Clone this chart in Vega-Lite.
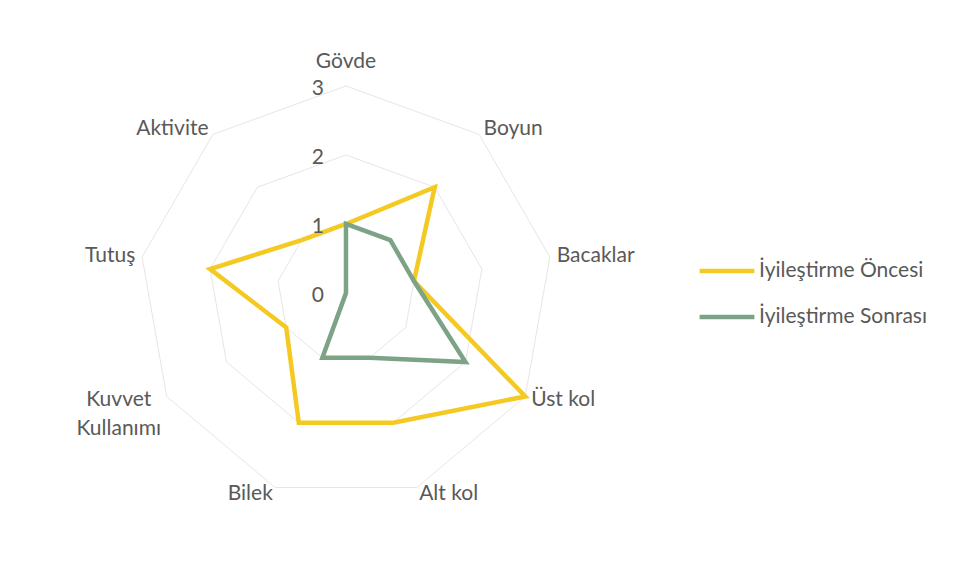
{
  "$schema": "https://vega.github.io/schema/vega-lite/v6.json",
  "width": 953,
  "height": 585,
  "autosize": {"type": "none"},
  "padding": 0,
  "background": "white",
  "config": {"view": {"stroke": null}, "font": "Lato", "text": {"font": "Lato"}},
  "datasets": {
    "scores": [
      {"axis": "Gövde", "i": 0, "series": "İyileştirme Öncesi", "value": 1},
      {"axis": "Boyun", "i": 1, "series": "İyileştirme Öncesi", "value": 2},
      {"axis": "Bacaklar", "i": 2, "series": "İyileştirme Öncesi", "value": 1},
      {"axis": "Üst kol", "i": 3, "series": "İyileştirme Öncesi", "value": 3},
      {"axis": "Alt kol", "i": 4, "series": "İyileştirme Öncesi", "value": 2},
      {"axis": "Bilek", "i": 5, "series": "İyileştirme Öncesi", "value": 2},
      {"axis": "Kuvvet Kullanımı", "i": 6, "series": "İyileştirme Öncesi", "value": 1},
      {"axis": "Tutuş", "i": 7, "series": "İyileştirme Öncesi", "value": 2},
      {"axis": "Aktivite", "i": 8, "series": "İyileştirme Öncesi", "value": 1},
      {"axis": "Gövde", "i": 0, "series": "İyileştirme Sonrası", "value": 1},
      {"axis": "Boyun", "i": 1, "series": "İyileştirme Sonrası", "value": 1},
      {"axis": "Bacaklar", "i": 2, "series": "İyileştirme Sonrası", "value": 1},
      {"axis": "Üst kol", "i": 3, "series": "İyileştirme Sonrası", "value": 2},
      {"axis": "Alt kol", "i": 4, "series": "İyileştirme Sonrası", "value": 1},
      {"axis": "Bilek", "i": 5, "series": "İyileştirme Sonrası", "value": 1},
      {"axis": "Kuvvet Kullanımı", "i": 6, "series": "İyileştirme Sonrası", "value": 0},
      {"axis": "Tutuş", "i": 7, "series": "İyileştirme Sonrası", "value": 0},
      {"axis": "Aktivite", "i": 8, "series": "İyileştirme Sonrası", "value": 0}
    ],
    "axes": [
      {"i": 0, "label": ["Gövde"], "rings": [1, 2, 3]},
      {"i": 1, "label": ["Boyun"], "rings": [1, 2, 3]},
      {"i": 2, "label": ["Bacaklar"], "rings": [1, 2, 3]},
      {"i": 3, "label": ["Üst kol"], "rings": [1, 2, 3]},
      {"i": 4, "label": ["Alt kol"], "rings": [1, 2, 3]},
      {"i": 5, "label": ["Bilek"], "rings": [1, 2, 3]},
      {"i": 6, "label": ["Kuvvet", "Kullanımı"], "rings": [1, 2, 3]},
      {"i": 7, "label": ["Tutuş"], "rings": [1, 2, 3]},
      {"i": 8, "label": ["Aktivite"], "rings": [1, 2, 3]}
    ],
    "ticks": [{"v": 0}, {"v": 1}, {"v": 2}, {"v": 3}]
  },
  "layer": [
    {
      "data": {"name": "axes"},
      "transform": [
        {"flatten": ["rings"], "as": ["ring"]},
        {"calculate": "datum.i * 2 * PI / 9", "as": "a"},
        {"calculate": "datum.ring * sin(datum.a)", "as": "x"},
        {"calculate": "datum.ring * cos(datum.a)", "as": "y"}
      ],
      "mark": {"type": "line", "interpolate": "linear-closed", "stroke": "#e6e6e6", "strokeWidth": 1},
      "encoding": {
        "x": {"field": "x", "type": "quantitative", "scale": {"domain": [-5.014, 8.797], "nice": false, "zero": false}, "axis": null},
        "y": {"field": "y", "type": "quantitative", "scale": {"domain": [-4.232, 4.246], "nice": false, "zero": false}, "axis": null},
        "detail": {"field": "ring"},
        "order": {"field": "i"}
      }
    },
    {
      "data": {"name": "scores"},
      "transform": [
        {"filter": "datum.series == 'İyileştirme Öncesi'"},
        {"calculate": "datum.i * 2 * PI / 9", "as": "a"},
        {"calculate": "datum.value * sin(datum.a)", "as": "x"},
        {"calculate": "datum.value * cos(datum.a)", "as": "y"}
      ],
      "mark": {"type": "line", "interpolate": "linear-closed", "strokeWidth": 4.5},
      "encoding": {
        "x": {"field": "x", "type": "quantitative"},
        "y": {"field": "y", "type": "quantitative"},
        "order": {"field": "i"},
        "color": {
          "field": "series",
          "type": "nominal",
          "scale": {"domain": ["İyileştirme Öncesi", "İyileştirme Sonrası"], "range": ["#F4C922", "#7DA387"]},
          "legend": {
            "title": null,
            "orient": "none",
            "legendX": 697,
            "legendY": 241,
            "symbolType": "stroke",
            "symbolSize": 3000,
            "symbolStrokeWidth": 4.5,
            "labelFontSize": 21,
            "labelColor": "#595959",
            "labelFont": "Lato",
            "labelOffset": 2,
            "rowPadding": 6,
            "labelLimit": 300
          }
        }
      }
    },
    {
      "data": {"name": "scores"},
      "transform": [
        {"filter": "datum.series == 'İyileştirme Sonrası'"},
        {"calculate": "datum.i * 2 * PI / 9", "as": "a"},
        {"calculate": "datum.value * sin(datum.a)", "as": "x"},
        {"calculate": "datum.value * cos(datum.a)", "as": "y"}
      ],
      "mark": {"type": "line", "interpolate": "linear-closed", "strokeWidth": 4.5},
      "encoding": {
        "x": {"field": "x", "type": "quantitative"},
        "y": {"field": "y", "type": "quantitative"},
        "order": {"field": "i"},
        "color": {"field": "series", "type": "nominal"}
      }
    },
    {
      "data": {"name": "axes"},
      "transform": [
        {"filter": "datum.i >= 1 && datum.i <= 4"},
        {"calculate": "datum.i * 2 * PI / 9", "as": "a"},
        {"calculate": "3.1 * sin(datum.a)", "as": "x"},
        {"calculate": "3.1 * cos(datum.a)", "as": "y"}
      ],
      "mark": {"type": "text", "align": "left", "baseline": "middle", "fontSize": 21, "color": "#595959"},
      "encoding": {
        "x": {"field": "x", "type": "quantitative"},
        "y": {"field": "y", "type": "quantitative"},
        "text": {"field": "label"}
      }
    },
    {
      "data": {"name": "axes"},
      "transform": [
        {"filter": "datum.i == 5 || datum.i >= 7"},
        {"calculate": "datum.i * 2 * PI / 9", "as": "a"},
        {"calculate": "3.1 * sin(datum.a)", "as": "x"},
        {"calculate": "3.1 * cos(datum.a)", "as": "y"}
      ],
      "mark": {"type": "text", "align": "right", "baseline": "middle", "fontSize": 21, "color": "#595959"},
      "encoding": {
        "x": {"field": "x", "type": "quantitative"},
        "y": {"field": "y", "type": "quantitative"},
        "text": {"field": "label"}
      }
    },
    {
      "data": {"name": "axes"},
      "transform": [
        {"filter": "datum.i == 0"},
        {"calculate": "3.2 * sin(datum.i * 2 * PI / 9)", "as": "x"},
        {"calculate": "3.2 * cos(datum.i * 2 * PI / 9)", "as": "y"}
      ],
      "mark": {"type": "text", "align": "center", "baseline": "bottom", "fontSize": 21, "color": "#595959"},
      "encoding": {
        "x": {"field": "x", "type": "quantitative"},
        "y": {"field": "y", "type": "quantitative"},
        "text": {"field": "label"}
      }
    },
    {
      "data": {"name": "axes"},
      "transform": [
        {"filter": "datum.i == 6"},
        {"calculate": "3.1 * sin(datum.i * 2 * PI / 9)", "as": "x"},
        {"calculate": "3.1 * cos(datum.i * 2 * PI / 9)", "as": "y"}
      ],
      "mark": {"type": "text", "align": "center", "baseline": "middle", "fontSize": 21, "lineHeight": 29, "dx": -42, "color": "#595959"},
      "encoding": {
        "x": {"field": "x", "type": "quantitative"},
        "y": {"field": "y", "type": "quantitative"},
        "text": {"field": "label"}
      }
    },
    {
      "data": {"name": "ticks"},
      "mark": {"type": "text", "align": "right", "baseline": "middle", "fontSize": 21, "dx": -22, "dy": 3, "color": "#595959"},
      "encoding": {
        "x": {"datum": 0, "type": "quantitative"},
        "y": {"field": "v", "type": "quantitative"},
        "text": {"field": "v", "type": "quantitative"}
      }
    }
  ]
}
